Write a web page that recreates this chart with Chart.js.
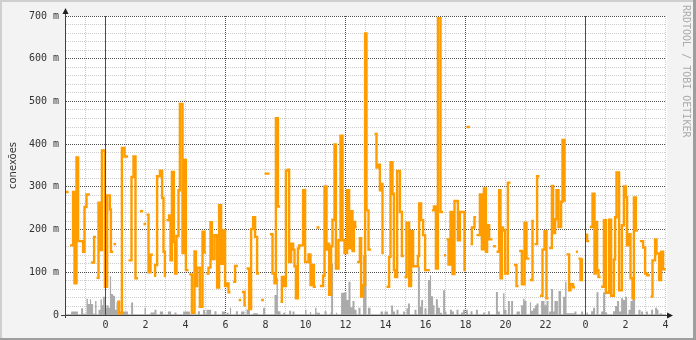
<!DOCTYPE html>
<html>
<head>
<meta charset="utf-8">
<script src="https://cdn.jsdelivr.net/npm/chart.js@4/dist/chart.umd.min.js"></script>
<style>
html,body{margin:0;padding:0;background:#F3F3F3;}
canvas{display:block;}
</style>
</head>
<body>
<canvas id="c" width="696" height="340"></canvas>
<script>
// ---- data (x in hours since first midnight, y in milli-units as labelled "m") ----
const yAxisTitle = 'conexões';
const watermark = 'RRDTOOL / TOBI OETIKER';
const midnightHours = [0, 24];
const yTickValues = [0,20,40,60,80,100,120,140,160,180,200,220,240,260,280,300,320,340,360,380,400,420,440,460,480,500,520,540,560,580,600,620,640,660,680,700];
const xTickHours = [-2,-1,0,1,2,3,4,5,6,7,8,9,10,11,12,13,14,15,16,17,18,19,20,21,22,23,24,25,26,27,28];

// orange step series: runs of [hour, value]; last entry of a run = end hour only
const conexoesRuns = [
 [[-1.98,288],[-1.85]],
 [[-1.78,163],[-1.62,288],[-1.55,74],[-1.45,369],[-1.37,173],[-1.12,148],[-1.05,253],[-0.95,282],[-0.78]],
 [[-0.72,123],[-0.57,183],[-0.47]],
 [[-0.45,87],[-0.35,263],[-0.25,152],[-0.18,385],[-0.03,66],[0.08,280],[0.22,247],[0.27,148],[0.38]],
 [[0.40,166],[0.53]],
 [[0.58,31],[0.68,4],[0.82,391],[0.95,371],[1.13]],
 [[1.15,128],[1.30,323],[1.40,371],[1.50,86],[1.63]],
 [[1.72,243],[1.88]],
 [[1.90,213],[2.03]],
 [[2.05,235],[2.15,100],[2.25,141],[2.37]],
 [[2.42,92],[2.48,117],[2.58,325],[2.72,338],[2.83,274],[2.90,148],[2.97,91],[3.03]],
 [[3.05,222],[3.18,233],[3.25,128],[3.32,335],[3.42,171],[3.48,97],[3.55,185],[3.65,292],[3.72,494],[3.85,145],[3.92,363],[4.02,105],[4.15]],
 [[4.18,95],[4.32,5],[4.45,149],[4.52,68],[4.58,111],[4.72,19],[4.85,195],[4.95,146],[5.03]],
 [[5.05,97],[5.15,111],[5.25,217],[5.32,131],[5.45,187],[5.58,64],[5.68,257],[5.78,120],[5.88,198],[5.98,68],[6.05,74],[6.15,53],[6.25]],
 [[6.38,78],[6.48,115],[6.62]],
 [[6.66,35],[6.78]],
 [[6.82,54],[6.95,23],[7.02]],
 [[7.05,109],[7.18,14],[7.28,201],[7.38,229],[7.48,183],[7.58,97],[7.68]],
 [[7.78,35],[7.92]],
 [[7.95,331],[8.20]],
 [[8.22,189],[8.35,97],[8.45,74],[8.52,461],[8.62,254],[8.73]],
 [[8.75,31],[8.82,89],[8.92,68],[9.02,338],[9.12,340],[9.18,124],[9.28,167],[9.38,153],[9.45,114],[9.52,39],[9.62,156],[9.68,163],[9.88,292],[9.98,124],[10.15,142],[10.25,70],[10.32,117],[10.42,66],[10.52]],
 [[10.55,205],[10.70]],
 [[10.72,68],[10.88,92],[10.95,301],[11.05,153],[11.12,167],[11.18,47],[11.28,161],[11.35,223],[11.45,399],[11.52,109],[11.65,175],[11.75,420],[11.85,175],[11.95,145],[12.08,292],[12.18,156],[12.25,243],[12.35,150],[12.42,218],[12.48,206],[12.56]],
 [[12.58,124],[12.72,180],[12.78,43],[12.88,70],[12.98,659],[13.05,245],[13.15,153],[13.28]],
 [[13.45,424],[13.55,345],[13.62,352],[13.72,292],[13.78,307],[13.85,145],[13.92]],
 [[14.05,66],[14.18,136],[14.25,358],[14.35,284],[14.42,105],[14.48,89],[14.58,337],[14.72,241],[14.82,138],[14.92]],
 [[14.95,89],[15.05,216],[15.18,68],[15.28,196],[15.38,114],[15.62,138],[15.68,261],[15.78,222],[15.88,187],[15.98,105],[16.22]],
 [[16.32,245],[16.42,254],[16.52,109],[16.62,695],[16.75,241],[16.88]],
 [[16.92,140],[17.02]],
 [[17.05,177],[17.15,118],[17.25,241],[17.35,96],[17.45,267],[17.62,175],[17.72,241],[17.95,105],[18.02]],
 [[18.05,440],[18.22]],
 [[18.25,166],[18.32,205],[18.45,229],[18.53]],
 [[18.55,187],[18.72,282],[18.82,154],[18.92,296],[19.02,148],[19.08,210],[19.18,177],[19.35]],
 [[19.38,161],[19.52]],
 [[19.55,148],[19.68,292],[19.75,86],[19.82,205],[19.88,198],[19.98,97],[20.12,310],[20.25]],
 [[20.42,117],[20.55,68],[20.65]],
 [[20.68,150],[20.82,72],[20.95,216],[21.05,132],[21.20]],
 [[21.22,82],[21.35,220],[21.42]],
 [[21.45,166],[21.58,325],[21.70]],
 [[21.72,45],[21.85,153],[21.95,196],[22.05,39],[22.15]],
 [[22.18,157],[22.32,302],[22.38,192],[22.48,224],[22.55,292],[22.65,206],[22.78,265],[22.85,410],[22.95,268],[23.02]],
 [[23.05,142],[23.18,58],[23.25,72],[23.38,65],[23.48]],
 [[23.52,148],[23.62]],
 [[23.65,132],[23.75,82],[23.82,130],[23.88]],
 [[23.98,188],[24.08,173],[24.18]],
 [[24.22,206],[24.35,284],[24.45,97],[24.52,218],[24.58,105],[24.65,89],[24.75]],
 [[24.78,66],[24.92,222],[25.02,52],[25.18,223],[25.28,45],[25.42,130],[25.48,229],[25.55,334],[25.68,58],[25.82,210],[25.92,301],[26.02,276],[26.08,163],[26.18,189],[26.25,86],[26.35,39],[26.42,275],[26.52,198],[26.62]],
 [[26.72,173],[26.88,158],[26.98,97],[27.08,93],[27.22]],
 [[27.25,43],[27.35,128],[27.48,177],[27.55,144],[27.68,82],[27.78,148],[27.88,107],[28.02]]
];

// grey step area: [hour, value]; last entry = end hour only
const cinzaSteps = [
 [-2.03,2],[-1.72,8],[-1.38,2],[-1.22,16],[-1.12,3],[-0.95,38],[-0.88,26],[-0.78,37],[-0.72,26],[-0.62,3],[-0.52,33],[-0.45,2],[-0.35,12],[-0.25,37],[-0.18,23],[-0.12,43],[-0.03,16],[0.05,23],[0.15,17],[0.22,91],[0.28,49],[0.38,45],[0.48,12],[0.55,30],[0.62,8],[1.12,2],[1.28,29],[1.38,2],[1.95,17],[2.02,2],[2.25,6],[2.45,12],[2.55,2],[2.72,8],[2.88,2],
 [3.12,8],[3.28,2],[3.45,6],[3.55,2],[3.88,8],[4.22,2],[4.62,9],[4.72,2],[4.88,12],[4.98,3],[5.05,12],[5.28,2],[5.45,9],[5.55,2],[5.82,8],[5.98,2],[6.05,5],[6.15,2],[6.22,17],[6.28,2],[6.52,9],[6.62,2],[6.78,8],[6.95,2],[7.05,13],[7.22,2],[7.38,4],[7.62,2],[7.88,17],[7.98,2],
 [8.45,47],[8.55,86],[8.62,9],[8.75,2],[8.88,5],[8.98,2],[9.18,10],[9.28,2],[9.35,8],[9.45,2],[9.98,12],[10.05,2],[10.22,7],[10.28,2],[10.48,17],[10.55,5],[10.72,2],[10.95,9],[11.05,2],[11.25,6],[11.28,120],[11.38,2],[11.52,5],[11.58,2],[11.78,52],[11.95,54],[12.05,35],[12.15,78],[12.25,18],[12.35,33],[12.45,12],[12.55,2],[12.65,17],[12.75,2],[12.88,140],
 [13.05,2],[13.12,17],[13.25,2],[13.75,8],[13.88,2],[13.95,8],[14.12,2],[14.28,22],[14.38,8],[14.48,2],[14.55,12],[14.65,2],[14.88,8],[14.98,2],[15.05,16],[15.12,27],[15.22,2],[15.45,12],[15.55,2],[15.62,114],[15.72,19],[15.78,35],[15.88,2],[15.95,16],[16.05,2],[16.12,82],[16.22,93],[16.28,44],[16.38,23],[16.45,2],[16.52,37],[16.62,17],[16.72,5],[16.82,2],[16.88,58],[16.98,8],[17.05,2],[17.22,12],[17.32,8],[17.42,2],[17.55,12],[17.65,2],[17.78,6],[17.88,12],[17.98,2],
 [18.02,12],[18.12,2],[18.25,9],[18.35,2],[18.52,12],[18.62,2],[18.88,6],[18.98,2],[19.12,9],[19.22,2],[19.52,54],[19.62,8],[19.72,2],[19.88,51],[19.95,12],[20.05,2],[20.12,33],[20.22,2],[20.28,33],[20.38,2],[20.55,8],[20.72,2],[20.78,23],[20.88,38],[20.95,33],[21.05,2],[21.22,30],[21.28,10],[21.38,16],[21.48,23],[21.55,27],[21.65,2],[21.78,33],[21.95,23],[22.05,33],[22.15,2],[22.18,8],[22.28,61],[22.38,8],[22.45,33],[22.62,2],[22.65,56],[22.78,2],[22.88,43],[22.98,78],
 [23.05,4],[23.45,8],[23.55,2],[23.78,8],[23.88,2],[24.05,6],[24.12,2],[24.28,9],[24.38,17],[24.48,2],[24.55,53],[24.65,2],[24.78,8],[24.88,53],[24.98,6],[25.08,2],[25.38,9],[25.48,21],[25.58,33],[25.68,8],[25.78,39],[25.88,35],[25.98,43],[26.08,2],[26.15,12],[26.25,33],[26.35,39],[26.48,2],[26.65,12],[26.75,2],[26.78,8],[26.88,2],[27.02,8],[27.12,2],[27.28,12],[27.38,2],[27.48,17],[27.58,12],[27.65,2],[27.72,4],[27.82,2],[28.02]
];

// ---- build library data ----
function stepPoints(run) {
  const pts = [];
  let last = null;
  run.forEach(p => {
    if (p.length > 1) { last = p[1]; pts.push({x: p[0], y: p[1]}); }
    else pts.push({x: p[0], y: last});
  });
  return pts;
}
const orangeData = [];
conexoesRuns.forEach(run => {
  stepPoints(run).forEach(p => orangeData.push(p));
  orangeData.push({x: run[run.length - 1][0], y: null});
});
const greyData = stepPoints(cinzaSteps);
const yMin = yTickValues[0];
const yMax = yTickValues[yTickValues.length - 1];
const ruleDatasets = midnightHours.map(h => ({
  data: [{x: h, y: yMin}, {x: h, y: yMax}],
  borderColor: '#FF0000', backgroundColor: '#FF0000', borderWidth: 1,
  pointRadius: 0, fill: false, order: 0, clip: false
}));

const MONO = '"DejaVu Sans Mono", monospace';
const DARK_GRID = '#505050';
const LIGHT_GRID = '#CDCDCD';

const framePlugin = {
  id: 'framePlugin',
  beforeDraw(chart) {
    const {ctx, width, height, chartArea: a} = chart;
    ctx.save();
    ctx.fillStyle = '#F3F3F3';
    ctx.fillRect(0, 0, width, height);
    ctx.fillStyle = '#CFCFCF';
    ctx.fillRect(0, 0, width, 2);
    ctx.fillRect(0, 0, 2, height);
    ctx.fillStyle = '#9E9E9E';
    ctx.fillRect(0, height - 2, width, 2);
    ctx.fillRect(width - 3, 0, 3, height);
    ctx.fillStyle = '#FFFFFF';
    ctx.fillRect(a.left, a.top, a.right - a.left + 1, a.bottom - a.top);
    ctx.restore();
  },
  afterDraw(chart) {
    const {ctx, chartArea: a, width} = chart;
    ctx.save();
    const ax = Math.round(a.left) + 0.5;
    const ay = Math.round(a.bottom) + 0.5;
    ctx.strokeStyle = '#404040';
    ctx.lineWidth = 1;
    ctx.beginPath();
    ctx.moveTo(ax, a.top - 3); ctx.lineTo(ax, a.bottom + 3);
    ctx.moveTo(a.left - 4, ay); ctx.lineTo(a.right + 2, ay);
    ctx.stroke();
    ctx.fillStyle = '#202020';
    ctx.beginPath();
    ctx.moveTo(ax, a.top - 8); ctx.lineTo(ax - 3, a.top - 2); ctx.lineTo(ax + 3, a.top - 2); ctx.closePath();
    ctx.fill();
    ctx.beginPath();
    ctx.moveTo(a.right + 7, ay); ctx.lineTo(a.right + 1, ay - 3); ctx.lineTo(a.right + 1, ay + 3); ctx.closePath();
    ctx.fill();
    ctx.translate(width - 10, 5);
    ctx.rotate(Math.PI / 2);
    ctx.font = '10px ' + MONO;
    ctx.fillStyle = '#ABABAB';
    ctx.textAlign = 'left';
    ctx.textBaseline = 'middle';
    ctx.fillText(watermark, 0, 0);
    ctx.restore();
  }
};

new Chart(document.getElementById('c'), {
  type: 'line',
  data: {
    datasets: ruleDatasets.concat([
      {data: orangeData, borderColor: '#FF9D00', borderWidth: 2.4, stepped: 'before', pointRadius: 0, spanGaps: false,
       borderCapStyle: 'butt', borderJoinStyle: 'miter', fill: false, order: 1},
      {data: greyData, borderColor: 'rgba(0,0,0,0)', borderWidth: 0, backgroundColor: '#AAAAAA', stepped: 'before',
       pointRadius: 0, fill: 'origin', order: 2}
    ])
  },
  options: {
    responsive: false,
    devicePixelRatio: 1,
    animation: false,
    events: [],
    layout: {padding: {top: 16, right: 30, bottom: 0, left: 0}},
    plugins: {legend: {display: false}, tooltip: {enabled: false}, title: {display: false}},
    scales: {
      x: {
        type: 'linear',
        offset: false,
        min: -2.025,
        max: 28.025,
        afterBuildTicks: s => { s.ticks = xTickHours.map(v => ({value: v})); },
        afterFit: s => { s.height = 25; },
        ticks: {
          autoSkip: false, maxRotation: 0, padding: 4, color: '#333333',
          font: {family: MONO, size: 10},
          callback: v => (v >= 0 && v % 2 === 0) ? String(v % 24) : ''
        },
        grid: {
          offset: false, drawTicks: false, lineWidth: 1,
          color: c => (c.tick && ((c.tick.value % 6) + 6) % 6 === 0) ? DARK_GRID : LIGHT_GRID
        },
        border: {display: true, color: '#404040', width: 1, dash: [1, 1]}
      },
      y: {
        type: 'linear',
        min: 0,
        max: 700,
        afterBuildTicks: s => { s.ticks = yTickValues.map(v => ({value: v})); },
        afterFit: s => { s.width = 65; },
        ticks: {
          autoSkip: false, padding: 6, color: '#333333',
          font: {family: MONO, size: 10},
          callback: v => v % 100 === 0 ? (v === 0 ? '0' : v + ' m') : ''
        },
        grid: {
          drawTicks: false, lineWidth: 1,
          color: c => (c.tick && c.tick.value % 100 === 0) ? DARK_GRID : LIGHT_GRID
        },
        border: {display: true, color: '#404040', width: 1, dash: [1, 1]},
        title: {display: true, text: yAxisTitle, color: '#333333',
                font: {family: '"DejaVu Sans", sans-serif', size: 10}, padding: {top: 7, bottom: 0}}
      }
    }
  },
  plugins: [framePlugin]
});
</script>
</body>
</html>
